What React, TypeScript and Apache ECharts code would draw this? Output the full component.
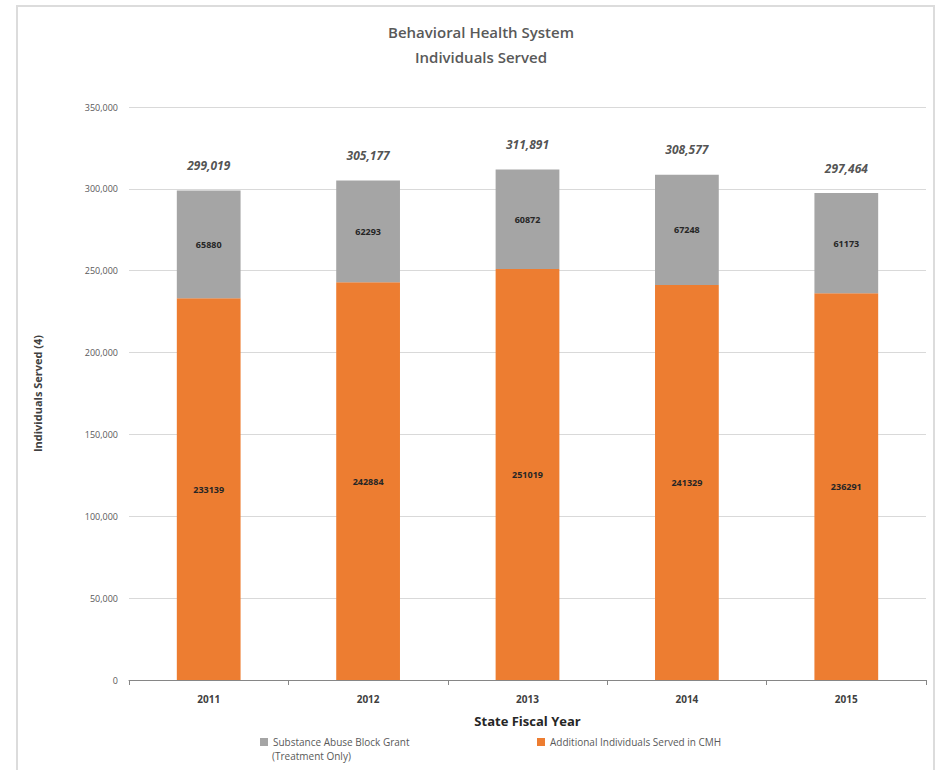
import React, { useEffect, useRef } from "react";
import * as echarts from "echarts";

const years = ["2011", "2012", "2013", "2014", "2015"];
const blockGrant = [65880, 62293, 60872, 67248, 61173];
const cmh = [233139, 242884, 251019, 241329, 236291];
const yTicks = [0, 50000, 100000, 150000, 200000, 250000, 300000, 350000];

const GREY_NAME = "Substance Abuse Block Grant";
const GREY_NAME_LINE2 = "(Treatment Only)";
const ORANGE_NAME = "Additional Individuals Served in CMH";

const fmt = (v: number) => v.toLocaleString("en-US");

export default function App() {
  const ref = useRef<HTMLDivElement>(null);
  useEffect(() => {
    if (!ref.current) return;
    const chart = echarts.init(ref.current, undefined, { renderer: "svg" });
    const totals = years.map((_, i) => cmh[i] + blockGrant[i]);
    const font = "Open Sans";
    chart.setOption({
      animation: false,
      backgroundColor: "#ffffff",
      textStyle: { fontFamily: font },
      graphic: [
        {
          type: "rect",
          shape: { x: 17, y: 6, width: 917, height: 800 },
          style: { fill: "none", stroke: "#dcdcdc", lineWidth: 2 },
          silent: true,
          z: -10,
        },
        {
          type: "text",
          left: 272,
          top: 751,
          style: {
            text: GREY_NAME_LINE2,
            fontSize: 10,
            fill: "#595959",
            fontFamily: font,
          },
          silent: true,
        },
      ],
      title: {
        text: "Behavioral Health System\nIndividuals Served",
        left: 476,
        top: 14,
        textAlign: "center",
        textStyle: {
          fontFamily: font,
          fontSize: 15,
          fontWeight: 600,
          color: "#595959",
          lineHeight: 25,
        },
      },
      legend: [
        {
          data: [GREY_NAME],
          left: 255,
          top: 732,
          itemWidth: 8,
          itemHeight: 8,
          icon: "rect",
          textStyle: { fontSize: 10, color: "#595959", fontFamily: font },
        },
        {
          data: [ORANGE_NAME],
          left: 532,
          top: 732,
          itemWidth: 8,
          itemHeight: 8,
          icon: "rect",
          textStyle: { fontSize: 10, color: "#595959", fontFamily: font },
        },
      ],
      grid: { left: 129, right: 11, top: 107, bottom: 90, containLabel: false },
      xAxis: {
        type: "category",
        data: years,
        name: "State Fiscal Year",
        nameLocation: "middle",
        nameGap: 34,
        nameTextStyle: { fontSize: 13, fontWeight: "bold", color: "#262626", fontFamily: font },
        axisLine: { lineStyle: { color: "#868686", width: 1 } },
        axisTick: { show: true, alignWithLabel: false, length: 5, lineStyle: { color: "#868686" } },
        axisLabel: { fontSize: 10, fontWeight: "bold", color: "#404040", margin: 14, fontFamily: font },
      },
      yAxis: {
        type: "value",
        min: yTicks[0],
        max: yTicks[yTicks.length - 1],
        interval: yTicks[1] - yTicks[0],
        name: "Individuals Served (4)",
        nameLocation: "middle",
        nameGap: 86,
        nameTextStyle: { fontSize: 11, fontWeight: "bold", color: "#404040", fontFamily: font },
        axisLine: { show: false },
        axisTick: { show: false },
        splitLine: { lineStyle: { color: "#d9d9d9", width: 1 } },
        axisLabel: {
          fontSize: 9,
          color: "#595959",
          margin: 11,
          fontFamily: font,
          formatter: (v: number) => fmt(v),
        },
      },
      series: [
        {
          name: ORANGE_NAME,
          type: "bar",
          stack: "total",
          data: cmh,
          barWidth: "40%",
          itemStyle: { color: "#ED7D31" },
          label: {
            show: true,
            position: "inside",
            fontSize: 9,
            fontWeight: "bold",
            color: "#262626",
            fontFamily: font,
          },
        },
        {
          name: GREY_NAME,
          type: "bar",
          stack: "total",
          data: blockGrant,
          barWidth: "40%",
          itemStyle: { color: "#A5A5A5" },
          label: {
            show: true,
            position: "inside",
            fontSize: 9,
            fontWeight: "bold",
            color: "#262626",
            fontFamily: font,
          },
        },
        {
          name: "Total",
          type: "scatter",
          data: totals,
          symbolSize: 0,
          silent: true,
          label: {
            show: true,
            position: "top",
            distance: 19,
            fontSize: 12,
            fontWeight: "bold",
            fontStyle: "italic",
            color: "#262626",
            fontFamily: font,
            formatter: (p: any) => fmt(p.value),
          },
        },
      ],
    });
    return () => chart.dispose();
  }, []);
  return (
    <div
      ref={ref}
      style={{ position: "absolute", left: 0, top: 0, width: 937, height: 770 }}
    />
  );
}
